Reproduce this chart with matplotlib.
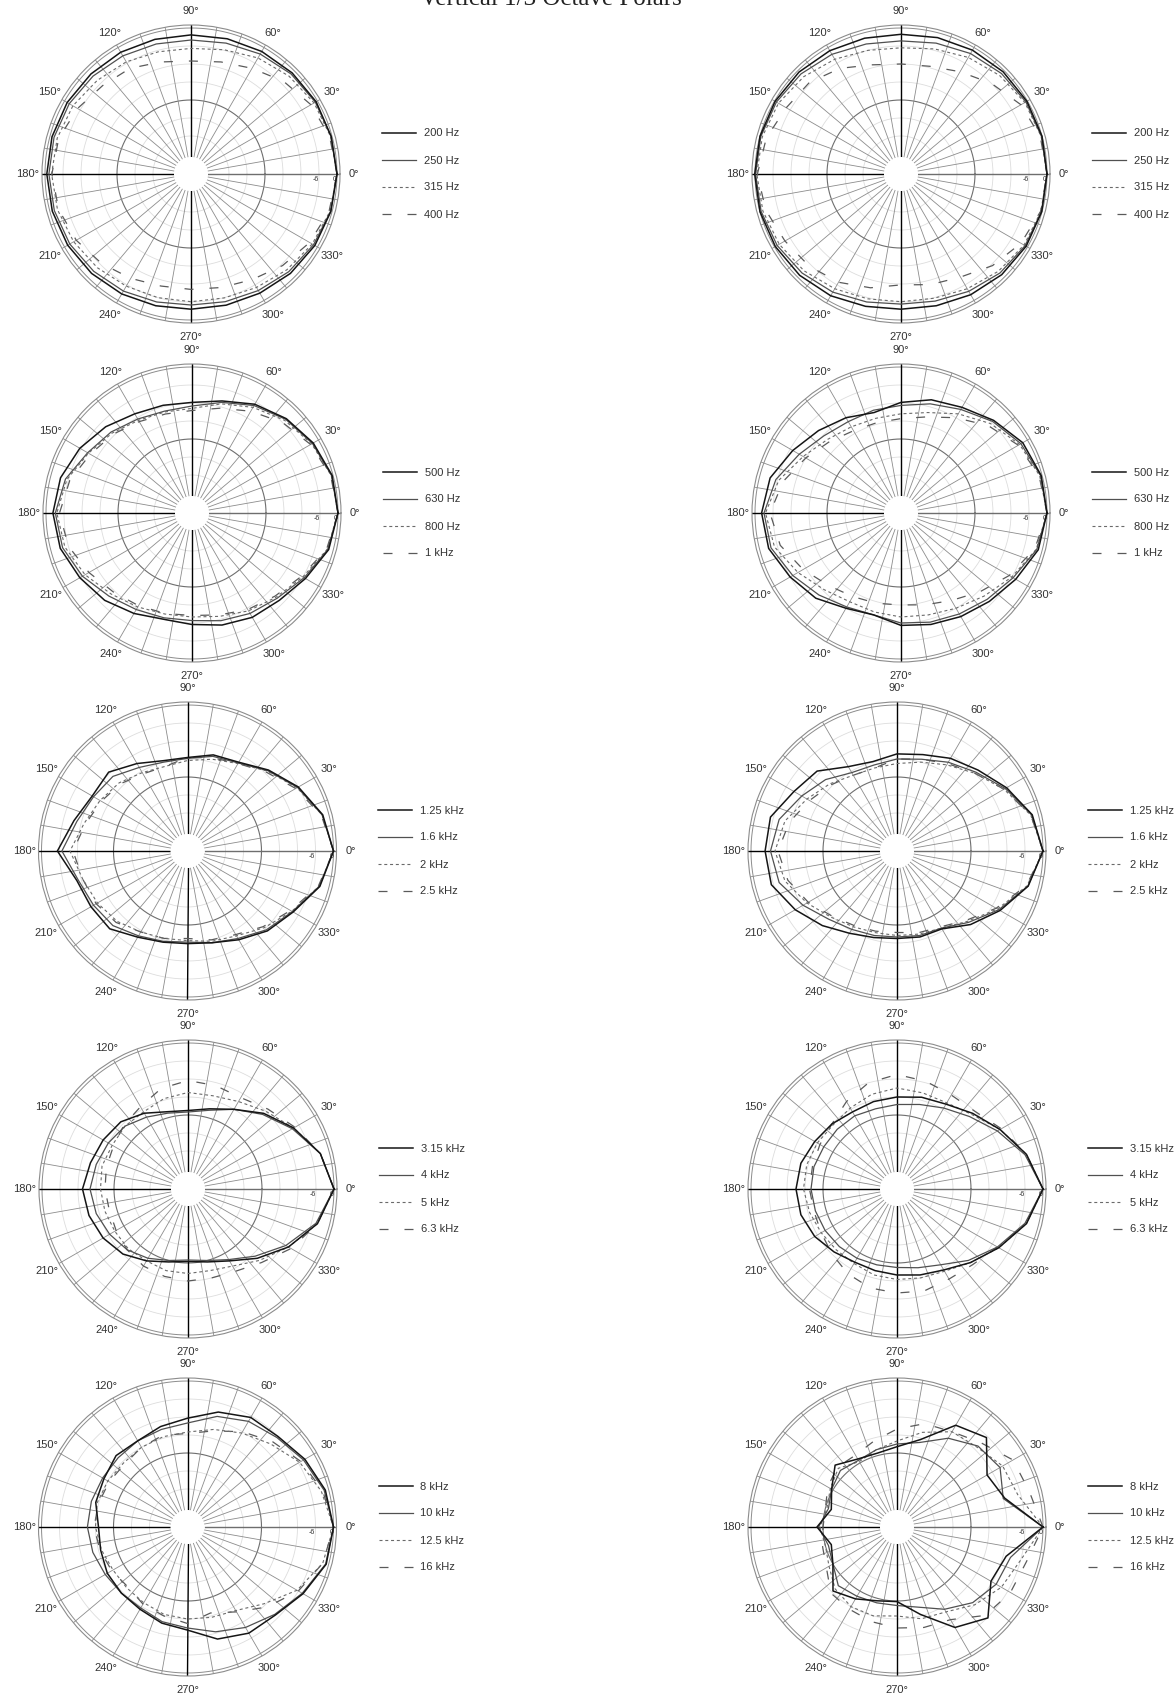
import numpy as np
import matplotlib.pyplot as plt
from matplotlib.transforms import offset_copy

plt.rcParams['font.family'] = ['Liberation Sans', 'DejaVu Sans']

# measurement angles (deg), values in dB relative to on-axis
angles = np.arange(0, 360, 15)

# row 1
left_200 = [0, -0.3, -0.5, -1.0, -1.5, -2.0, -2.3, -2.2, -1.8, -1.5, -1.0, -0.7, -0.6, -0.8, -1.2, -1.8, -2.5, -3.2, -3.6, -3.4, -2.8, -1.8, -1.0, -0.4]
left_250 = [0, -0.3, -0.8, -1.5, -2.5, -3.5, -4.0, -3.8, -3.2, -2.5, -1.8, -1.4, -1.3, -1.5, -2.0, -2.8, -3.6, -4.5, -5.0, -4.6, -3.8, -2.6, -1.5, -0.5]
left_315 = [0, -0.5, -1.3, -2.5, -4.0, -5.8, -6.8, -6.5, -5.5, -4.5, -3.2, -2.5, -2.2, -2.6, -3.5, -4.5, -5.5, -6.0, -6.1, -5.9, -5.0, -3.5, -2.0, -0.7]
left_400 = [0, -0.8, -2.5, -5.0, -8.0, -10.0, -11.0, -10.0, -8.0, -7.0, -5.0, -3.0, -2.3, -3.0, -4.5, -6.5, -8.5, -10.0, -10.2, -9.5, -8.0, -5.5, -3.0, -1.0]
right_200 = [0, 0, -0.2, -0.5, -1.0, -1.6, -2.1, -1.8, -1.2, -0.6, -0.2, 0, 0.1, 0, -0.3, -0.9, -1.8, -3.0, -3.6, -3.2, -2.2, -1.2, -0.5, -0.1]
right_250 = [0, -0.2, -0.6, -1.3, -2.3, -3.5, -4.3, -3.8, -2.6, -1.5, -0.7, -0.3, -0.2, -0.4, -1.0, -2.0, -3.2, -4.5, -5.3, -4.8, -3.5, -2.0, -0.9, -0.2]
right_315 = [0, -0.3, -1.0, -2.2, -3.8, -5.5, -6.6, -6.0, -4.5, -2.8, -1.5, -0.8, -0.6, -1.0, -1.8, -3.0, -4.5, -5.6, -6.1, -5.8, -4.5, -2.8, -1.3, -0.4]
right_400 = [0, -0.6, -2.5, -6.0, -9.3, -11.5, -12.0, -11.0, -8.0, -5.5, -4.5, -2.2, -0.8, -2.0, -4.0, -5.3, -7.0, -9.4, -11.7, -10.5, -9.0, -5.5, -2.5, -0.5]

# row 2
left_500 = [0, -0.3, -2.0, -4.2, -6.8, -10.0, -11.8, -11.5, -10.5, -8.0, -5.5, -3.3, -2.3, -3.2, -5.5, -7.5, -10.0, -12.0, -11.5, -10.0, -8.5, -7.5, -5.0, -1.5]
left_630 = [0, -0.5, -2.3, -4.5, -7.3, -10.5, -13.0, -13.5, -12.5, -10.5, -8.5, -5.0, -3.1, -4.0, -6.5, -9.5, -11.5, -12.5, -12.8, -11.5, -10.0, -8.5, -5.5, -1.8]
left_800 = [0, -0.6, -2.6, -5.0, -8.0, -11.0, -13.8, -13.8, -13.0, -11.0, -8.8, -5.5, -3.6, -4.8, -7.5, -10.5, -12.5, -13.8, -14.0, -13.0, -11.0, -9.0, -6.0, -2.0]
left_1k = [0, -0.8, -3.0, -6.0, -9.5, -12.5, -14.5, -14.5, -13.5, -11.5, -9.5, -6.5, -4.5, -6.0, -9.0, -11.5, -13.0, -14.0, -14.5, -13.5, -11.5, -9.5, -6.5, -2.2]
right_500 = [0, -0.3, -1.8, -5.0, -8.0, -9.6, -11.8, -14.0, -12.0, -9.8, -7.0, -3.5, -2.2, -3.0, -6.0, -8.5, -12.0, -13.5, -11.2, -10.2, -8.8, -7.0, -4.5, -1.3]
right_630 = [0, -0.5, -2.5, -5.5, -8.8, -11.0, -12.8, -13.2, -13.5, -12.3, -9.5, -5.5, -3.0, -3.8, -7.0, -10.0, -12.5, -13.5, -12.0, -11.0, -9.8, -8.0, -5.5, -1.8]
right_800 = [0, -0.8, -3.0, -6.5, -10.5, -14.0, -15.6, -16.0, -15.5, -14.0, -11.0, -6.5, -3.5, -5.0, -9.0, -12.5, -14.5, -14.5, -14.0, -13.5, -12.0, -9.5, -6.0, -2.0]
right_1k = [0, -1.0, -3.5, -7.5, -12.0, -15.5, -17.2, -17.5, -17.0, -15.0, -12.0, -8.0, -5.0, -7.0, -11.0, -14.5, -16.5, -17.5, -18.0, -17.0, -15.0, -11.5, -7.0, -2.5]

# row 3
left_1250 = [0, -2.0, -6.0, -10.5, -14.5, -15.5, -17.5, -17.5, -15.0, -11.5, -12.0, -9.5, -5.3, -10.5, -11.5, -12.0, -15.5, -17.2, -17.8, -17.0, -14.5, -11.0, -8.0, -3.0]
left_1600 = [0, -2.2, -6.3, -10.8, -14.8, -16.0, -17.8, -18.0, -16.5, -13.5, -12.5, -10.5, -6.8, -11.0, -12.5, -13.5, -16.0, -17.5, -18.3, -17.0, -15.0, -11.5, -8.3, -3.2]
left_2000 = [0, -2.2, -6.5, -11.0, -15.0, -17.0, -18.5, -19.5, -18.5, -16.5, -15.0, -13.0, -9.5, -12.5, -14.0, -15.5, -17.5, -18.5, -18.8, -17.5, -16.0, -12.5, -8.5, -3.3]
left_2500 = [0, -2.5, -7.0, -11.5, -15.0, -16.5, -17.5, -19.5, -19.0, -17.0, -15.5, -13.5, -10.5, -12.5, -13.5, -15.0, -17.5, -18.5, -19.5, -18.0, -16.5, -13.0, -9.0, -3.5]
right_1250 = [0, -2.0, -6.5, -10.5, -13.0, -15.4, -16.3, -17.8, -16.2, -11.0, -9.0, -5.0, -4.7, -5.3, -9.5, -13.5, -17.0, -18.8, -19.5, -19.0, -18.7, -14.0, -9.0, -3.4]
right_1600 = [0, -2.2, -7.0, -11.5, -14.5, -17.0, -18.0, -19.0, -18.5, -15.0, -12.0, -8.0, -6.5, -8.0, -12.5, -16.5, -18.5, -19.5, -20.0, -19.5, -19.0, -15.0, -9.5, -3.5]
right_2000 = [0, -2.5, -7.5, -12.0, -15.5, -18.0, -19.5, -20.0, -19.5, -17.0, -14.0, -10.0, -8.0, -10.0, -14.0, -17.5, -19.5, -20.5, -20.5, -20.0, -19.0, -15.5, -10.0, -3.8]
right_2500 = [0, -2.5, -7.5, -12.0, -15.0, -17.0, -18.0, -20.0, -19.5, -17.5, -15.0, -11.5, -9.0, -11.0, -14.5, -18.0, -20.0, -21.0, -21.5, -20.5, -19.5, -16.0, -10.5, -4.0]

# row 4
left_3150 = [0, -3.0, -8.0, -13.0, -18.0, -21.0, -22.5, -22.0, -19.5, -17.0, -16.0, -15.0, -13.5, -14.5, -16.0, -18.0, -21.0, -23.5, -24.5, -23.5, -21.0, -16.0, -10.0, -4.0]
left_4000 = [0, -3.0, -8.5, -13.5, -18.0, -21.5, -23.0, -22.5, -21.0, -19.0, -18.0, -17.0, -16.0, -17.0, -18.5, -20.0, -22.0, -24.0, -25.0, -24.0, -21.5, -17.0, -11.0, -4.5]
left_5000 = [0, -3.0, -8.0, -12.0, -15.0, -16.5, -16.5, -17.5, -19.0, -19.0, -19.5, -19.0, -19.5, -20.0, -20.5, -20.5, -21.0, -20.5, -20.5, -20.5, -19.0, -15.0, -10.0, -4.0]
left_6300 = [0, -3.0, -7.5, -11.0, -13.5, -13.0, -12.5, -14.0, -17.0, -18.5, -20.0, -20.5, -21.0, -21.5, -21.0, -20.0, -19.0, -18.5, -18.0, -18.0, -17.0, -14.0, -9.0, -4.0]
right_3150 = [0, -4.0, -9.0, -13.0, -16.0, -17.0, -18.0, -18.5, -19.0, -18.0, -17.0, -15.5, -15.0, -15.5, -17.0, -19.0, -20.5, -20.5, -20.0, -19.0, -17.5, -14.0, -9.5, -4.0]
right_4000 = [0, -4.5, -10.0, -14.5, -17.5, -19.5, -20.5, -21.0, -20.5, -20.5, -20.5, -20.0, -20.0, -20.5, -21.0, -21.5, -22.0, -22.5, -22.5, -21.5, -19.5, -15.0, -10.0, -4.5]
right_5000 = [0, -4.0, -9.0, -13.5, -15.5, -15.5, -15.0, -16.0, -17.5, -18.5, -18.0, -17.5, -17.5, -18.5, -19.5, -20.0, -20.0, -19.0, -18.5, -18.0, -17.0, -14.0, -9.5, -4.0]
right_6300 = [0, -4.0, -8.5, -12.0, -12.5, -11.5, -10.5, -12.0, -15.0, -18.0, -19.0, -19.5, -19.5, -20.0, -19.5, -18.0, -16.0, -14.5, -14.0, -13.5, -14.0, -13.0, -10.0, -4.0]

# row 5
left_8k = [0, -1.1, -3.5, -6.0, -6.5, -9.0, -12.4, -14.0, -15.5, -15.0, -16.5, -17.0, -19.0, -18.7, -17.8, -17.5, -17.0, -15.5, -14.3, -10.0, -7.8, -7.2, -4.2, -0.8]
left_10k = [0, -1.5, -4.0, -6.5, -8.0, -10.5, -14.0, -15.0, -15.5, -16.0, -16.0, -15.5, -15.3, -16.0, -17.0, -17.5, -17.5, -16.0, -15.0, -12.5, -10.0, -7.5, -4.5, -1.0]
left_12k5 = [0, -2.5, -5.5, -9.5, -12.5, -15.0, -17.0, -17.5, -18.0, -18.5, -18.0, -17.5, -18.0, -19.0, -20.0, -20.0, -19.5, -18.5, -18.0, -17.5, -16.5, -12.5, -6.5, -2.0]
left_16k = [0, -2.0, -5.0, -8.5, -12.0, -15.5, -17.5, -17.0, -18.0, -19.0, -18.5, -18.0, -17.5, -18.5, -19.5, -20.5, -19.0, -18.0, -16.5, -19.0, -16.0, -11.0, -6.0, -2.0]
right_8k = [0, -11.5, -14.0, -6.5, -9.5, -18.5, -21.9, -23.2, -22.5, -19.5, -23.5, -26.0, -22.0, -26.0, -24.0, -18.5, -21.0, -23.2, -23.8, -18.5, -10.0, -5.8, -12.5, -11.0]
right_10k = [0, -12.0, -9.0, -10.5, -14.5, -19.5, -21.0, -22.0, -23.0, -22.0, -23.5, -25.0, -22.5, -25.0, -24.0, -21.0, -22.0, -22.5, -22.5, -21.0, -17.0, -13.0, -10.5, -9.5]
right_12k5 = [0, -7.0, -8.0, -11.0, -12.0, -16.0, -20.0, -22.0, -23.5, -21.0, -23.0, -24.5, -23.0, -24.0, -22.5, -19.5, -18.0, -18.0, -19.0, -17.0, -16.0, -12.0, -8.5, -6.0]
right_16k = [0, -3.0, -4.0, -9.0, -12.0, -13.0, -16.0, -19.0, -21.0, -20.5, -22.0, -24.0, -24.0, -23.0, -21.5, -17.5, -17.0, -16.0, -15.0, -14.0, -13.0, -7.0, -5.0, -4.0]

rows = [
    (['200 Hz', '250 Hz', '315 Hz', '400 Hz'],
     [left_200, left_250, left_315, left_400], [right_200, right_250, right_315, right_400]),
    (['500 Hz', '630 Hz', '800 Hz', '1 kHz'],
     [left_500, left_630, left_800, left_1k], [right_500, right_630, right_800, right_1k]),
    (['1.25 kHz', '1.6 kHz', '2 kHz', '2.5 kHz'],
     [left_1250, left_1600, left_2000, left_2500], [right_1250, right_1600, right_2000, right_2500]),
    (['3.15 kHz', '4 kHz', '5 kHz', '6.3 kHz'],
     [left_3150, left_4000, left_5000, left_6300], [right_3150, right_4000, right_5000, right_6300]),
    (['8 kHz', '10 kHz', '12.5 kHz', '16 kHz'],
     [left_8k, left_10k, left_12k5, left_16k], [right_8k, right_10k, right_12k5, right_16k]),
]

W, H = 1175, 1695
R = 149
row_y = [174, 513, 851, 1189, 1527]
left_x = [191, 192, 187.5, 188, 187.5]
right_x = [901, 901, 897, 897, 897]

styles = [
    dict(color='#151515', lw=1.1, ls='-'),
    dict(color='#505050', lw=0.9, ls='-'),
    dict(color='#6a6a6a', lw=0.8, ls=(0, (2.7, 2.5))),
    dict(color='#5a5a5a', lw=0.9, ls=(0, (7.2, 12.8))),
]
txt_col = '#333333'

fig = plt.figure(figsize=(W / 100, H / 100), dpi=100)


def panel(cx, cy, labels, series):
    ax = fig.add_axes([(cx - R) / W, 1 - (cy + R) / H, 2 * R / W, 2 * R / H],
                      projection='polar')
    ax.set_rlim(-43, 1)
    ax.set_rorigin(-48.67)
    ax.set_xticks([])
    ax.set_yticks([])
    ax.grid(False)
    ax.spines['polar'].set_color('#8c8c8c')
    ax.spines['polar'].set_linewidth(0.8)
    # polar draw() turns the inner spine back on, so hide it by width
    ax.spines['inner'].set_linewidth(0)
    ax.spines['inner'].set_edgecolor('none')

    ring = np.linspace(0, 2 * np.pi, 361)
    for lvl in [-36, -30, -18, -12, -6]:
        ax.plot(ring, np.full_like(ring, lvl), color='#dddddd', lw=0.6, zorder=1)
    ax.plot(ring, np.full_like(ring, -24), color='#6e6e6e', lw=0.8, zorder=1)
    ax.plot(ring, np.zeros_like(ring), color='#8c8c8c', lw=0.7, zorder=1)
    for a in range(0, 360, 10):
        if a % 90 == 0:
            continue
        th = np.deg2rad(a)
        ax.plot([th, th], [-43, 1], color='#8c8c8c', lw=0.6, zorder=1)
    for a, col in [(0, '#6e6e6e'), (90, 'black'), (180, 'black'), (270, 'black')]:
        th = np.deg2rad(a)
        ax.plot([th, th], [-43, 1], color=col, lw=1.0, zorder=2)

    theta = np.deg2rad(np.append(angles, 360))
    handles = []
    for i, (vals, st) in enumerate(zip(series, styles)):
        r = np.append(vals, vals[0])
        h, = ax.plot(theta, r, zorder=6 - i, **st)
        handles.append(h)

    for a in range(0, 360, 30):
        ax.text(np.deg2rad(a), 5.7, f'{a}°', ha='center', va='center',
                fontsize=8, color=txt_col, clip_on=False)
    for lvl, lab, dx in [(-6, '-6', -2.3), (0, '0', -1.5)]:
        tr = offset_copy(ax.transData, fig=fig, x=dx, y=-3.8, units='points')
        ax.text(0, lvl, lab, transform=tr, ha='center', va='center',
                fontsize=5, color=txt_col)

    leg = ax.legend(handles, labels, loc='center left',
                    bbox_to_anchor=((R + 191) / (2 * R), 0.5),
                    frameon=False, fontsize=8, handlelength=3.06, handletextpad=0.72,
                    labelspacing=1.53, borderpad=0, borderaxespad=0)
    for t in leg.get_texts():
        t.set_color(txt_col)


for i, (labels, lser, rser) in enumerate(rows):
    panel(left_x[i], row_y[i], labels, lser)
    panel(right_x[i], row_y[i], labels, rser)

fig.text(551 / W, 1 - 5 / H, 'Vertical 1/3 Octave Polars', ha='center', va='baseline',
         family=['Liberation Serif', 'DejaVu Serif'], fontsize=18, color='#222222')

fig.savefig('out.png', dpi=100, facecolor='white')
